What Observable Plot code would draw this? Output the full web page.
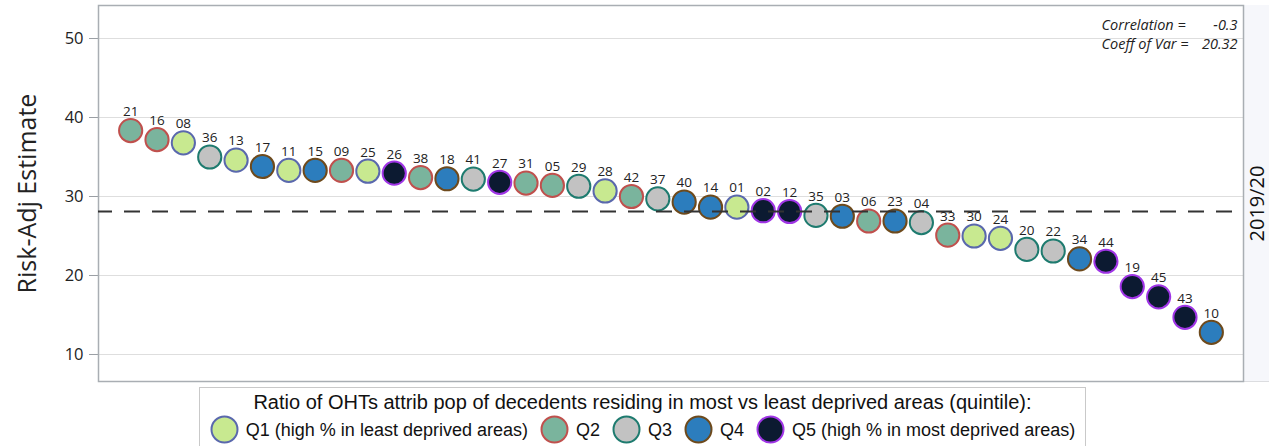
<!DOCTYPE html>
<html><head><meta charset="utf-8">
<script src="https://cdn.jsdelivr.net/npm/d3@7"></script>
<script src="https://cdn.jsdelivr.net/npm/@observablehq/plot@0.6"></script>
<style>
body{margin:0;background:#fff;}
#wrap{position:relative;width:1269px;height:446px;overflow:hidden;background:#fff;}
#strip{position:absolute;left:1244px;top:5px;width:25px;height:377px;background:#f6f7fb;border-bottom:1px solid #dcdde0;box-sizing:border-box;}
#chart{position:absolute;left:0;top:0;}
#legend{position:absolute;left:199px;top:387px;width:887px;height:80px;border:1px solid #c9c9c9;box-sizing:border-box;font-family:"Liberation Sans",Arial,sans-serif;color:#111;}
#legend .title{position:absolute;left:0;right:0;top:2px;text-align:center;font-size:20px;line-height:24px;}
#legend .row{position:absolute;left:0;right:0;top:27px;display:flex;justify-content:center;align-items:center;font-size:18px;line-height:28px;}
#legend .item{display:flex;align-items:center;margin:0 6px;}
#legend svg{margin-right:7px;display:block;}
</style>
</head><body>
<div id="wrap"><div id="strip"></div><div id="chart"></div><div id="legend"></div></div>
<script>
const ids = ["21","16","08","36","13","17","11","15","09","25","26","38","18","41","27","31","05","29","28","42","37","40","14","01","02","12","35","03","06","23","04","33","30","24","20","22","34","44","19","45","43","10"];
const values = [38.35,37.2,36.8,35.0,34.6,33.8,33.3,33.3,33.3,33.2,32.95,32.4,32.25,32.2,31.8,31.7,31.4,31.3,30.7,30.0,29.7,29.3,28.65,28.65,28.2,28.1,27.6,27.5,26.9,26.9,26.7,25.1,25.0,24.7,23.3,23.1,22.1,21.8,18.6,17.3,14.7,12.8];
const quintiles = ["Q2","Q2","Q1","Q3","Q1","Q4","Q1","Q4","Q2","Q1","Q5","Q2","Q4","Q3","Q5","Q2","Q2","Q3","Q1","Q2","Q3","Q4","Q4","Q1","Q5","Q5","Q3","Q4","Q2","Q4","Q3","Q2","Q1","Q1","Q3","Q3","Q4","Q5","Q5","Q5","Q5","Q4"];
const qKeys = ["Q1","Q2","Q3","Q4","Q5"];
const qLabels = ["Q1 (high % in least deprived areas)","Q2","Q3","Q4","Q5 (high % in most deprived areas)"];
const qFills = ["#c8e990","#7ab49d","#c2c2c2","#2c7dbd","#0c1a31"];
const qStrokes = ["#5a68ad","#c0504d","#1e7b6f","#6e4a1c","#a035e6"];
const refLine = [28.1];
const yTicks = [10,20,30,40,50];
const yLabel = "Risk-Adj Estimate";
const panelLabel = "2019/20";
const statLabels = ["Correlation =","Coeff of Var ="];
const statValues = ["-0.3","20.32"];
const legendTitle = "Ratio of OHTs attrib pop of decedents residing in most vs least deprived areas (quintile):";

const data = ids.map((id,i)=>({id, value: values[i], q: quintiles[i]}));
const fillOf = d => qFills[qKeys.indexOf(d.q)];
const strokeOf = d => qStrokes[qKeys.indexOf(d.q)];

const plot = Plot.plot({
  width: 1269, height: 384,
  marginLeft: 98, marginRight: 26, marginTop: 5, marginBottom: 3,
  style: {background: "transparent", fontFamily: "'Open Sans', sans-serif", color: "#222"},
  x: {type: "point", domain: ids, padding: 1.22, round: false, axis: null},
  y: {domain: [6.58, 54.18]},
  color: {type: "identity"},
  marks: [
    Plot.gridY(yTicks, {stroke: "#dedede", strokeOpacity: 1}),
    Plot.axisY(yTicks, {tickSize: 9, tickPadding: 6, fontSize: 16.5, stroke: "#9a9fa4", label: null, fill: "#222"}),
    Plot.frame({stroke: "#a9aeb3", strokeWidth: 1.5}),
    Plot.dot(data, {x: "id", y: "value", r: 11.6, fill: fillOf, stroke: strokeOf, strokeWidth: 2}),
    Plot.ruleY(refLine, {stroke: "#333", strokeWidth: 2, strokeDasharray: "16,12", strokeDashoffset: 2}),
    Plot.text(data, {x: "id", y: "value", text: "id", dy: -19, fontSize: 13.5, fill: "#222"}),
    Plot.text([yLabel], {frameAnchor: "left", textAnchor: "middle", dx: -71, rotate: -90, fontSize: 25, fill: "#222"}),
    Plot.text([panelLabel], {frameAnchor: "right", textAnchor: "middle", dx: 14, dy: 10, rotate: -90, fontSize: 20, fill: "#111"}),
    ...statLabels.map((s,i) => Plot.text([s], {frameAnchor: "top-right", textAnchor: "start", dx: -142, dy: 14 + i*19, fontSize: 14.5, fontStyle: "italic", fill: "#222"})),
    ...statValues.map((s,i) => Plot.text([s], {frameAnchor: "top-right", textAnchor: "end", dx: -6, dy: 14 + i*19, fontSize: 14.5, fontStyle: "italic", fill: "#222"}))
  ]
});
document.getElementById("chart").appendChild(plot);

const leg = document.getElementById("legend");
const t = document.createElement("div"); t.className = "title"; t.textContent = legendTitle; leg.appendChild(t);
const row = document.createElement("div"); row.className = "row"; leg.appendChild(row);
qKeys.forEach((k,i) => {
  const it = document.createElement("div"); it.className = "item";
  it.innerHTML = `<svg width="29" height="29"><circle cx="14.5" cy="14.5" r="13" fill="${qFills[i]}" stroke="${qStrokes[i]}" stroke-width="2"/></svg><span>${qLabels[i]}</span>`;
  row.appendChild(it);
});
</script>
</body></html>
